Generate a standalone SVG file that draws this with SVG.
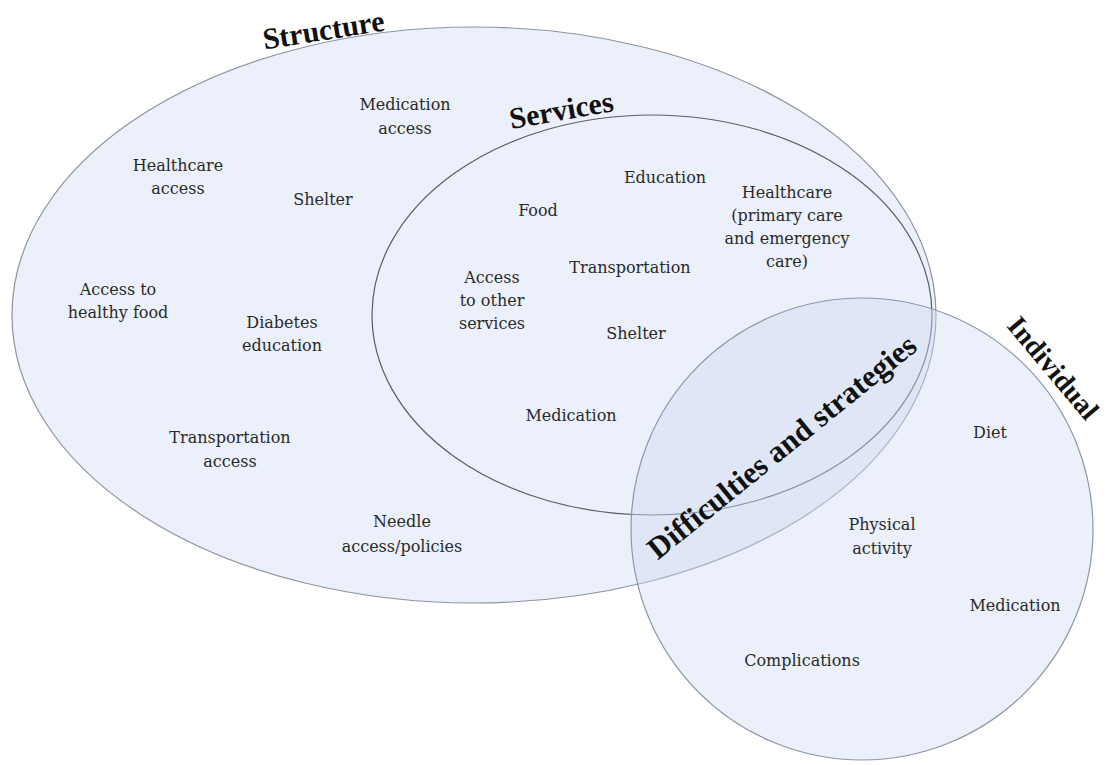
<svg xmlns="http://www.w3.org/2000/svg" width="1106" height="765" viewBox="0 0 1106 765">
  <style>
    .area { fill: #cfdcf2; fill-opacity: 0.42; }
    .label { font-family: "DejaVu Serif", "Liberation Serif", serif; font-size: 16px; fill: #2a2a2a; text-anchor: middle; }
    .title { font-family: "Liberation Serif", "DejaVu Serif", serif; font-size: 30px; font-weight: bold; fill: #111; text-anchor: middle; }
  </style>
  <rect width="1106" height="765" fill="#ffffff"/>

  <!-- Structure: outer ellipse -->
  <g id="structure">
    <ellipse class="area" cx="474" cy="315" rx="462" ry="288" stroke="#8e959e" stroke-width="1.2"/>
    <text class="title" transform="translate(325,40) rotate(-9)">Structure</text>
    <text class="label"><tspan x="405" y="110">Medication</tspan><tspan x="405" y="134">access</tspan></text>
    <text class="label"><tspan x="178" y="171">Healthcare</tspan><tspan x="178" y="194">access</tspan></text>
    <text class="label" x="323" y="205">Shelter</text>
    <text class="label"><tspan x="118" y="295">Access to</tspan><tspan x="118" y="318">healthy food</tspan></text>
    <text class="label"><tspan x="282" y="328">Diabetes</tspan><tspan x="282" y="351">education</tspan></text>
    <text class="label"><tspan x="230" y="443">Transportation</tspan><tspan x="230" y="467">access</tspan></text>
    <text class="label"><tspan x="402" y="527">Needle</tspan><tspan x="402" y="552">access/policies</tspan></text>
  </g>

  <!-- Services: ellipse inside Structure -->
  <g id="services">
    <ellipse cx="652" cy="315" rx="280" ry="200" fill="none" stroke="#5a5f66" stroke-width="1.2"/>
    <text class="title" transform="translate(563,120) rotate(-10)">Services</text>
    <text class="label" x="665" y="183">Education</text>
    <text class="label" x="538" y="216">Food</text>
    <text class="label"><tspan x="787" y="198">Healthcare</tspan><tspan x="787" y="221">(primary care</tspan><tspan x="787" y="244">and emergency</tspan><tspan x="787" y="267">care)</tspan></text>
    <text class="label" x="630" y="273">Transportation</text>
    <text class="label"><tspan x="492" y="283">Access</tspan><tspan x="492" y="306">to other</tspan><tspan x="492" y="329">services</tspan></text>
    <text class="label" x="636" y="339">Shelter</text>
    <text class="label" x="571" y="421">Medication</text>
  </g>

  <!-- Individual: circle at lower right -->
  <g id="individual">
    <circle class="area" cx="862" cy="529" r="231" stroke="#8a98a8" stroke-width="1.2"/>
    <text class="title" style="font-size:28px" transform="translate(1046,374) rotate(50)">Individual</text>
    <text class="label" x="990" y="438">Diet</text>
    <text class="label"><tspan x="882" y="530">Physical</tspan><tspan x="882" y="554">activity</tspan></text>
    <text class="label" x="1015" y="611">Medication</text>
    <text class="label" x="802" y="666">Complications</text>
  </g>

  <!-- Overlap label -->
  <g id="difficulties">
    <text class="title" style="font-size:31px" transform="translate(782,447) rotate(-39)" y="10">Difficulties and strategies</text>
  </g>

  <g id="connectors"></g>
</svg>
